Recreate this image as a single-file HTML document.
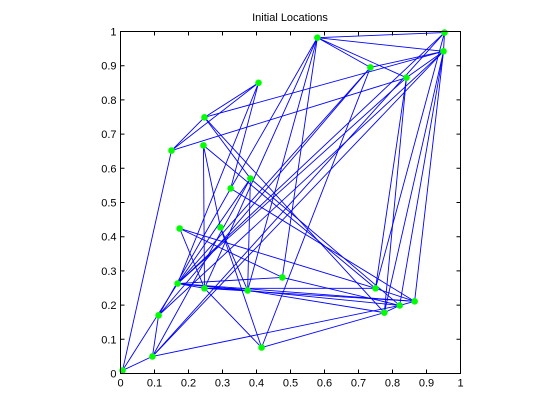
<!DOCTYPE html>
<html><head><meta charset="utf-8"><style>
html,body{margin:0;padding:0;background:#fff;}
svg{display:block;font-family:"Liberation Sans",Arial,sans-serif;}
</style></head><body>
<svg id="chart" width="560" height="420" viewBox="0 0 560 420" xmlns="http://www.w3.org/2000/svg">
<rect x="0" y="0" width="560" height="420" fill="#fff"/>
<text x="290" y="21" font-size="11" text-anchor="middle">Initial Locations</text>
<g id="edges"></g>
<g id="pts"></g>
<rect x="120.5" y="31.5" width="340" height="342" fill="none" stroke="#000" stroke-width="1"/>
<g id="axes"></g>
</svg>
<script>
const xs = [0.006,0.094,0.112,0.168,0.174,0.150,0.247,0.244,0.247,0.294,0.324,0.382,0.374,0.406,0.415,0.476,0.579,0.735,0.841,0.953,0.950,0.750,0.776,0.821,0.865];
const ys = [0.009,0.050,0.170,0.263,0.424,0.652,0.749,0.667,0.249,0.427,0.541,0.570,0.243,0.850,0.076,0.281,0.982,0.895,0.865,0.997,0.942,0.249,0.178,0.199,0.211];
const edges = [[0,1],[0,5],[0,3],[1,2],[1,23],[1,20],[1,19],[2,20],[3,19],[3,18],[3,17],[2,17],[1,11],[3,11],[2,10],
[5,6],[5,13],[5,18],[6,13],[6,11],[6,22],[7,8],[7,9],[7,21],[10,16],[10,24],[11,23],[4,8],[4,21],[4,15],
[3,8],[3,12],[3,24],[3,23],[8,12],[8,14],[8,21],[12,9],[12,11],[14,22],[14,17],[14,9],[15,16],[15,3],[15,23],
[16,19],[16,20],[16,17],[16,18],[17,20],[18,20],[18,21],[18,22],[19,20],[19,21],[20,23],[20,24],[20,22],[21,24],[22,23],[23,24],[13,10],[13,3],[16,8],[16,12],[8,24],[12,22],[6,20]];
const xTicks = [0,0.1,0.2,0.3,0.4,0.5,0.6,0.7,0.8,0.9,1];
const yTicks = [0,0.1,0.2,0.3,0.4,0.5,0.6,0.7,0.8,0.9,1];
const xLabels = ["0","0.1","0.2","0.3","0.4","0.5","0.6","0.7","0.8","0.9","1"];
const yLabels = ["0","0.1","0.2","0.3","0.4","0.5","0.6","0.7","0.8","0.9","1"];
const NS="http://www.w3.org/2000/svg";
const X0=120.5,X1=460.5,Y0=373.5,Y1=31.5;
function sx(v){return X0+(X1-X0)*v;}
function sy(v){return Y0-(Y0-Y1)*v;}
const eg=document.getElementById('edges');
edges.forEach(function(e){
  const l=document.createElementNS(NS,'line');
  l.setAttribute('x1',sx(xs[e[0]]));l.setAttribute('y1',sy(ys[e[0]]));
  l.setAttribute('x2',sx(xs[e[1]]));l.setAttribute('y2',sy(ys[e[1]]));
  l.setAttribute('stroke','#0000ff');l.setAttribute('stroke-width','0.9');
  
  
  eg.appendChild(l);
});
const pg=document.getElementById('pts');
xs.forEach(function(v,i){
  const c=document.createElementNS(NS,'circle');
  c.setAttribute('cx',sx(v));c.setAttribute('cy',sy(ys[i]));c.setAttribute('r','3.3');
  c.setAttribute('fill','#00ff00');
  
  
  pg.appendChild(c);
});
const ag=document.getElementById('axes');
xTicks.forEach(function(t,i){
  const x=sx(t);
  const a=document.createElementNS(NS,'path');
  a.setAttribute('d','M'+x+' '+Y0+'v-4M'+x+' '+Y1+'v4');a.setAttribute('stroke','#000');
  
  
  ag.appendChild(a);
  const tx=document.createElementNS(NS,'text');
  tx.setAttribute('x',x);tx.setAttribute('y',Y0+13);tx.setAttribute('font-size','11');tx.setAttribute('text-anchor','middle');
  tx.textContent=xLabels[i];
  
  
  ag.appendChild(tx);
});
yTicks.forEach(function(t,i){
  const y=sy(t);
  const a=document.createElementNS(NS,'path');
  a.setAttribute('d','M'+X0+' '+y+'h4M'+X1+' '+y+'h-4');a.setAttribute('stroke','#000');
  
  
  ag.appendChild(a);
  const tx=document.createElementNS(NS,'text');
  tx.setAttribute('x',X0-4);tx.setAttribute('y',y+4);tx.setAttribute('font-size','11');tx.setAttribute('text-anchor','end');
  tx.textContent=yLabels[i];
  
  
  ag.appendChild(tx);
});
</script>
</body></html>
